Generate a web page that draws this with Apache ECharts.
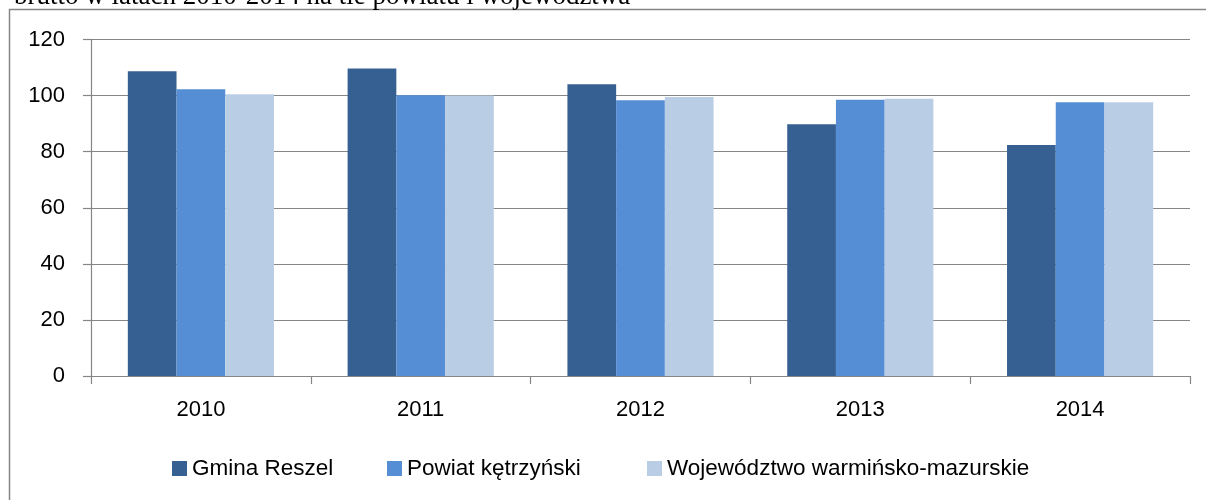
<!DOCTYPE html>
<html>
<head>
<meta charset="utf-8">
<script src="https://cdn.jsdelivr.net/npm/echarts@6/dist/echarts.min.js"></script>
<style>
html,body{margin:0;padding:0;background:#fff;}
#chart{width:1206px;height:500px;}
</style>
</head>
<body>
<div id="chart"></div>
<script>
const categories = ['2010', '2011', '2012', '2013', '2014'];
const gminaReszel = [108.7, 109.7, 104.0, 89.8, 82.4];
const powiatKetrzynski = [102.3, 100.1, 98.3, 98.5, 97.6];
const wojewodztwo = [100.5, 100.0, 99.5, 98.9, 97.6];
const seriesNames = ['Gmina Reszel', 'Powiat kętrzyński', 'Województwo warmińsko-mazurskie'];
const captionText = 'brutto w latach 2010-2014 na tle powiatu i województwa';

const FONT = '"Liberation Sans", Arial, sans-serif';
const AX = '#868686';
const colors = ['#376092', '#558ED5', '#B9CDE5'];

const chart = echarts.init(document.getElementById('chart'), null, {renderer: 'canvas'});

function legendAt(name, left) {
  return {
    data: [name], left: left, top: 457, padding: 0,
    itemWidth: 15, itemHeight: 15, itemGap: 0,
    icon: 'rect', selectedMode: false,
    textStyle: {fontFamily: FONT, fontSize: 22.5, color: '#000', lineHeight: 22, padding: [0, 0, 0, 0]}
  };
}

chart.setOption({
  animation: false,
  backgroundColor: '#fff',
  graphic: [
    {type: 'rect', shape: {x: 9.5, y: 9.5, width: 1300, height: 600},
     style: {fill: 'none', stroke: AX, lineWidth: 1.5}, z: -1},
    {type: 'text', x: 14, y: 10,
     style: {text: captionText, font: '27px "Liberation Serif", "Times New Roman", serif',
             fill: '#000', textVerticalAlign: 'bottom'}}
  ],
  legend: [
    legendAt(seriesNames[0], 172),
    legendAt(seriesNames[1], 387),
    legendAt(seriesNames[2], 647)
  ],
  grid: {left: 91, right: 16, top: 39.5, bottom: 124, containLabel: false},
  xAxis: {
    type: 'category', data: categories,
    axisLine: {lineStyle: {color: AX, width: 1.2}},
    axisTick: {show: true, length: 8, lineStyle: {color: AX, width: 1.2}},
    axisLabel: {fontFamily: FONT, fontSize: 22, color: '#000', margin: 23}
  },
  yAxis: {
    type: 'value', min: 0, max: 120, interval: 20,
    axisLine: {show: true, lineStyle: {color: AX, width: 1.2}},
    axisTick: {show: true, length: 8, lineStyle: {color: AX, width: 1.2}},
    splitLine: {show: true, lineStyle: {color: AX, width: 1.2}},
    axisLabel: {fontFamily: FONT, fontSize: 22, color: '#000', margin: 26}
  },
  series: [
    {name: seriesNames[0], type: 'bar', data: gminaReszel, itemStyle: {color: colors[0]}, barGap: '0%', barCategoryGap: '33.5%'},
    {name: seriesNames[1], type: 'bar', data: powiatKetrzynski, itemStyle: {color: colors[1]}, barGap: '0%', barCategoryGap: '33.5%'},
    {name: seriesNames[2], type: 'bar', data: wojewodztwo, itemStyle: {color: colors[2]}, barGap: '0%', barCategoryGap: '33.5%'}
  ]
});
</script>
</body>
</html>
